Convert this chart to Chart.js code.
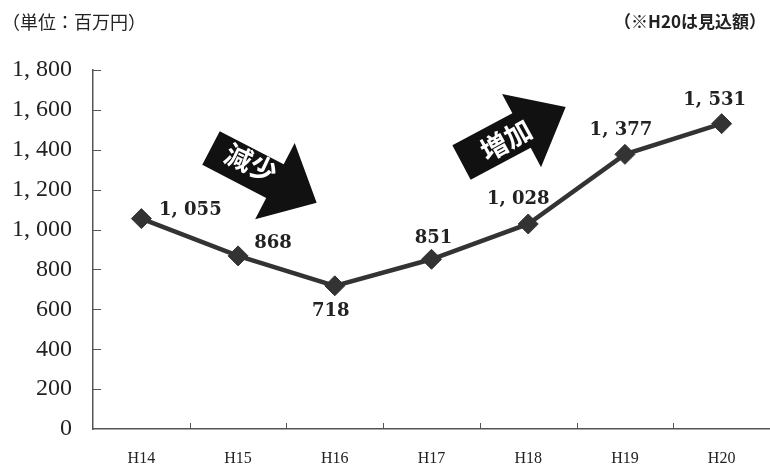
<!DOCTYPE html>
<html>
<head>
<meta charset="utf-8">
<script src="https://cdn.jsdelivr.net/npm/chart.js@4/dist/chart.umd.min.js"></script>
<style>
  html, body { margin: 0; padding: 0; background: #fff; }
  #wrap { width: 770px; height: 466px; }
</style>
</head>
<body>
<div id="wrap"><canvas id="chart" width="770" height="466"></canvas></div>
<script>
// Data (unit: million yen)
const years = ['H14', 'H15', 'H16', 'H17', 'H18', 'H19', 'H20'];
const amounts = [1055, 868, 718, 851, 1028, 1377, 1531];
const yTickValues = [0, 200, 400, 600, 800, 1000, 1200, 1400, 1600, 1800];

const unitNote = '（単位：百万円）';
const estimateNote = '（※H20は見込額）';

// "1, 055" style number format used in the original
function fmt(v) {
    if (v >= 1000) {
        return Math.floor(v / 1000) + ', ' + String(v % 1000).padStart(3, '0');
    }
    return String(v);
}

// where each value label sits relative to its point (dx, dy)
const labelOffsets = [[49, -8], [35, -13], [-4, 26], [2, -21], [-10, -25], [-4, -24], [-7, -23]];

function drawArrow(ctx, sx, sy, deg, bodyLen, halfW, headLen, headHalf, text, textDeg, tx, ty) {
    const a = deg * Math.PI / 180;
    ctx.save();
    ctx.translate(sx, sy);
    ctx.rotate(a);
    ctx.beginPath();
    ctx.moveTo(0, -halfW);
    ctx.lineTo(bodyLen, -halfW);
    ctx.lineTo(bodyLen, -headHalf);
    ctx.lineTo(bodyLen + headLen, 0);
    ctx.lineTo(bodyLen, headHalf);
    ctx.lineTo(bodyLen, halfW);
    ctx.lineTo(0, halfW);
    ctx.closePath();
    ctx.fillStyle = '#111';
    ctx.fill();
    ctx.restore();

    ctx.save();
    ctx.translate(tx, ty);
    ctx.rotate(textDeg * Math.PI / 180);
    ctx.fillStyle = '#fff';
    ctx.font = 'bold 27px "Noto Sans CJK JP"';
    ctx.textAlign = 'center';
    ctx.textBaseline = 'middle';
    ctx.fillText(text, 0, 0);
    ctx.restore();
}

const decorations = {
    id: 'decorations',
    beforeDatasetsDraw(chart) {
        const { ctx, chartArea: a, scales: { x, y } } = chart;
        ctx.save();
        ctx.strokeStyle = '#555';
        ctx.lineWidth = 1;
        ctx.beginPath();
        // inward ticks on the value axis
        y.ticks.forEach(t => {
            if (t.value === 0) return;
            const py = Math.round(y.getPixelForValue(t.value)) + 0.5;
            ctx.moveTo(a.left, py);
            ctx.lineTo(a.left + 8, py);
        });
        // ticks between categories
        for (let i = 1; i < years.length; i++) {
            const px = Math.round((x.getPixelForValue(i - 1) + x.getPixelForValue(i)) / 2) + 0.5;
            ctx.moveTo(px, a.bottom);
            ctx.lineTo(px, a.bottom - 6);
        }
        ctx.stroke();
        ctx.restore();
    },
    afterDraw(chart) {
        const { ctx, scales: { x, y } } = chart;

        // value labels
        ctx.save();
        ctx.fillStyle = '#222';
        ctx.font = 'bold 18px "DejaVu Serif"';
        ctx.textAlign = 'center';
        ctx.textBaseline = 'middle';
        amounts.forEach((v, i) => {
            const px = x.getPixelForValue(i);
            const py = y.getPixelForValue(v);
            ctx.fillText(fmt(v), px + labelOffsets[i][0], py + labelOffsets[i][1]);
        });
        ctx.restore();

        // header notes
        ctx.save();
        ctx.fillStyle = '#222';
        ctx.textBaseline = 'middle';
        ctx.font = '18px "Noto Sans CJK JP"';
        ctx.textAlign = 'left';
        ctx.fillText(unitNote, 2, 22);
        ctx.font = 'bold 17px "Noto Sans CJK JP"';
        ctx.textAlign = 'right';
        ctx.fillText(estimateNote, 766, 22);
        ctx.restore();

        // trend arrows
        drawArrow(ctx, 211, 148, 27.4, 72, 19, 47, 43, '減少', 25, 251, 163);
        drawArrow(ctx, 461.5, 162.5, -28, 68, 19.5, 50, 41.5, '増加', -29, 506, 140);
    }
};

new Chart(document.getElementById('chart').getContext('2d'), {
    type: 'line',
    data: {
        labels: years,
        datasets: [{
            data: amounts,
            borderColor: '#333',
            borderWidth: 4.5,
            pointStyle: 'rectRot',
            pointRadius: 10,
            pointBackgroundColor: '#333',
            pointBorderColor: '#333',
            pointBorderWidth: 1,
            tension: 0,
            fill: false,
            clip: false
        }]
    },
    options: {
        responsive: false,
        animation: false,
        layout: { autoPadding: false, padding: { top: 70, right: 0, left: 0, bottom: 0 } },
        plugins: {
            legend: { display: false },
            tooltip: { enabled: false }
        },
        scales: {
            x: {
                offset: true,
                grid: { display: true, drawOnChartArea: false, drawTicks: false, offset: true },
                border: { color: '#555', width: 1.5 },
                ticks: {
                    color: '#222',
                    padding: 20,
                    font: { family: '"Liberation Serif"', size: 16 }
                },
                afterFit(scale) {
                    scale.height = 37;
                    scale.paddingLeft = 0;
                    scale.paddingRight = 0;
                }
            },
            y: {
                min: 0,
                max: 1800,
                afterBuildTicks(scale) {
                    scale.ticks = yTickValues.map(v => ({ value: v }));
                },
                grid: { display: true, drawOnChartArea: false, drawTicks: false },
                border: { color: '#555', width: 1.5 },
                ticks: {
                    color: '#222',
                    padding: 21,
                    font: { family: '"Liberation Serif"', size: 24 },
                    callback: v => fmt(v)
                },
                afterFit(scale) { scale.width = 93; }
            }
        }
    },
    plugins: [decorations]
});
</script>
</body>
</html>
